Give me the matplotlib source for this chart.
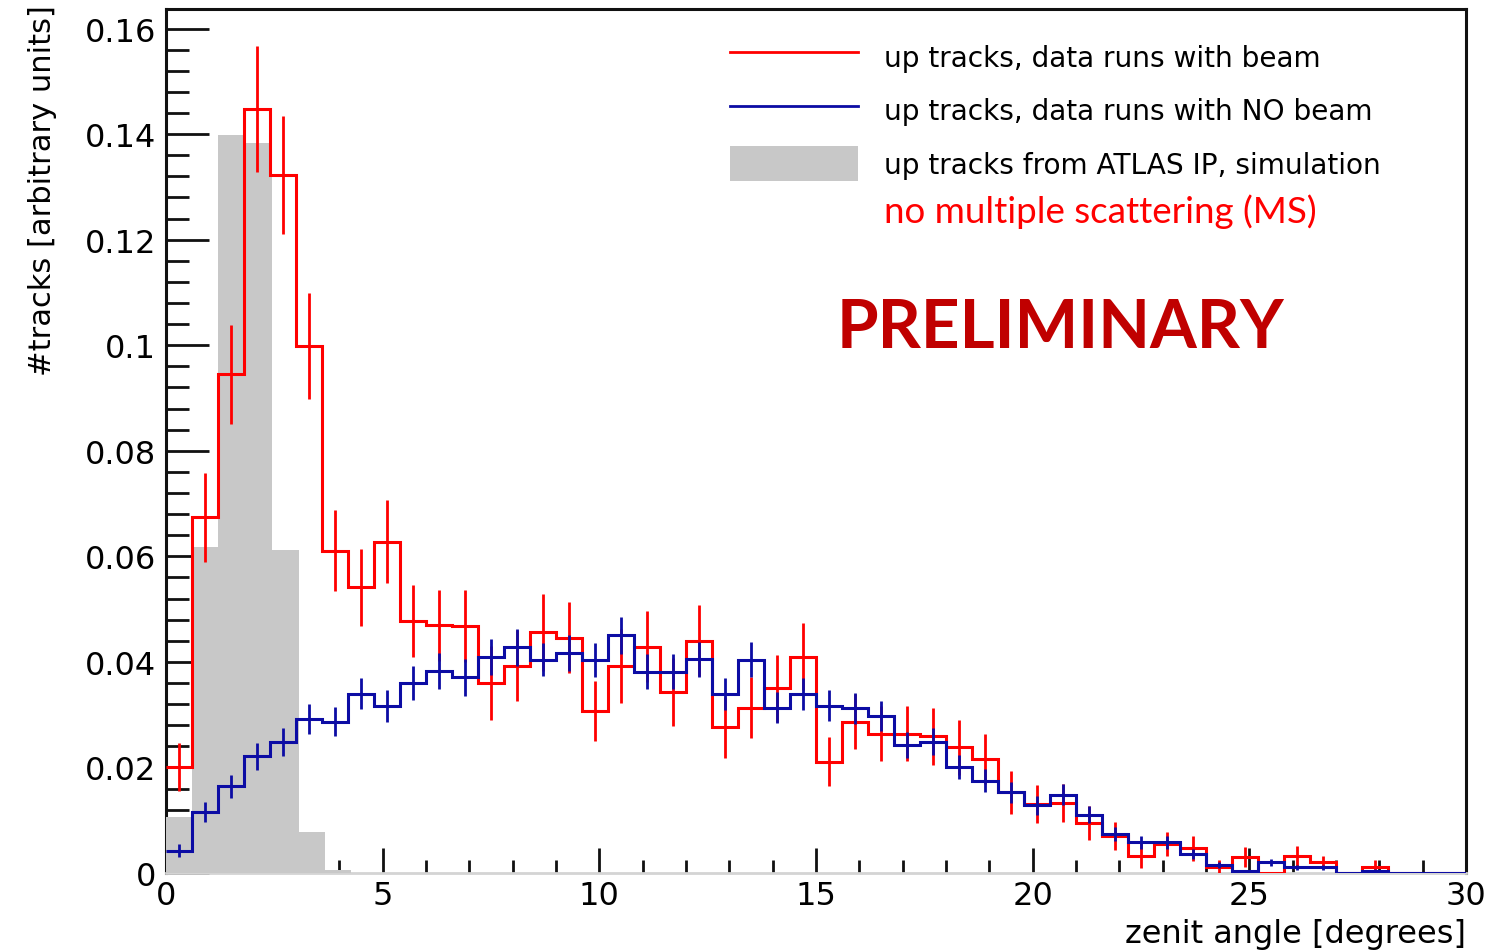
import numpy as np
import matplotlib
matplotlib.use("Agg")
import matplotlib.pyplot as plt
from matplotlib.lines import Line2D
from matplotlib.patches import Patch

# 50 bins of 0.6 degrees from 0 to 30
bin_edges = np.linspace(0, 30, 51)

# up tracks, data runs with beam
beam = [0.0201, 0.0674, 0.0945, 0.1448, 0.1323, 0.0998, 0.0611, 0.0541, 0.0628, 0.0477,
        0.0469, 0.0468, 0.0360, 0.0393, 0.0456, 0.0446, 0.0307, 0.0393, 0.0429, 0.0343,
        0.0440, 0.0276, 0.0313, 0.0350, 0.0410, 0.0211, 0.0287, 0.0264, 0.0264, 0.0259,
        0.0238, 0.0216, 0.0153, 0.0131, 0.0133, 0.0094, 0.0070, 0.0033, 0.0055, 0.0047,
        0.0011, 0.0031, 0.0000, 0.0032, 0.0020, 0.0000, 0.0011, 0.0000, 0.0000, 0.0000]
beam_err = [0.0045, 0.0084, 0.0094, 0.0119, 0.0112, 0.0100, 0.0076, 0.0073, 0.0079, 0.0068,
            0.0068, 0.0068, 0.0070, 0.0067, 0.0073, 0.0068, 0.0057, 0.0070, 0.0067, 0.0065,
            0.0067, 0.0058, 0.0058, 0.0063, 0.0064, 0.0046, 0.0052, 0.0052, 0.0052, 0.0054,
            0.0052, 0.0047, 0.0041, 0.0036, 0.0036, 0.0032, 0.0027, 0.0024, 0.0023, 0.0024,
            0.0013, 0.0019, 0.0000, 0.0019, 0.0013, 0.0000, 0.0013, 0.0000, 0.0000, 0.0000]

# up tracks, data runs with NO beam
nobeam = [0.0042, 0.0116, 0.0164, 0.0221, 0.0248, 0.0292, 0.0287, 0.0340, 0.0316, 0.0360,
          0.0382, 0.0371, 0.0409, 0.0428, 0.0404, 0.0416, 0.0403, 0.0450, 0.0381, 0.0381,
          0.0405, 0.0339, 0.0404, 0.0313, 0.0339, 0.0317, 0.0312, 0.0297, 0.0243, 0.0249,
          0.0201, 0.0175, 0.0153, 0.0128, 0.0148, 0.0110, 0.0074, 0.0058, 0.0058, 0.0036,
          0.0015, 0.0003, 0.0020, 0.0011, 0.0011, 0.0000, 0.0004, 0.0000, 0.0000, 0.0000]
nobeam_err = [0.0012, 0.0019, 0.0022, 0.0025, 0.0026, 0.0028, 0.0028, 0.0030, 0.0030, 0.0032,
              0.0034, 0.0035, 0.0034, 0.0035, 0.0031, 0.0034, 0.0032, 0.0035, 0.0033, 0.0033,
              0.0033, 0.0030, 0.0033, 0.0029, 0.0030, 0.0029, 0.0029, 0.0028, 0.0025, 0.0026,
              0.0023, 0.0022, 0.0020, 0.0018, 0.0020, 0.0016, 0.0014, 0.0012, 0.0012, 0.0010,
              0.0006, 0.0003, 0.0007, 0.0005, 0.0005, 0.0000, 0.0003, 0.0000, 0.0000, 0.0000]

# simulation (no multiple scattering)
sim_edges = [0, 0.6, 1.2, 1.82, 2.44, 3.08, 3.68, 4.28]
sim = [0.0107, 0.0618, 0.1398, 0.1383, 0.0612, 0.0077, 0.0005]

xticks = [0, 5, 10, 15, 20, 25, 30]
yticks = [0, 0.02, 0.04, 0.06, 0.08, 0.10, 0.12, 0.14, 0.16]
ytick_labels = ["0", "0.02", "0.04", "0.06", "0.08", "0.1", "0.12", "0.14", "0.16"]

legend_labels = ["up tracks, data runs with beam",
                 "up tracks, data runs with NO beam",
                 "up tracks from ATLAS IP, simulation"]

RED = "#ff0000"
BLUE = "#0c0ca4"
GREY = "#c8c8c8"

centers = 0.5 * (bin_edges[:-1] + bin_edges[1:])

fig = plt.figure(figsize=(15.11, 9.53), dpi=100)
ax = fig.add_axes([166 / 1511, 1 - 874 / 953, 1300 / 1511, 864 / 953])

ax.stairs(sim, sim_edges, fill=True, color=GREY, zorder=2.6, lw=0)

ax.stairs(beam, bin_edges, baseline=None, color=RED, lw=2.2, zorder=3)
ax.errorbar(centers, beam, yerr=beam_err, fmt="none", ecolor=RED, elinewidth=2.0,
            capsize=0, zorder=3)
ax.stairs(nobeam, bin_edges, baseline=None, color=BLUE, lw=2.2, zorder=4)
ax.errorbar(centers, nobeam, yerr=nobeam_err, fmt="none", ecolor=BLUE, elinewidth=2.0,
            capsize=0, zorder=4)

ax.set_xlim(0, 30)
ax.set_ylim(0, 0.1637)

ax.set_xticks(xticks)
ax.set_xticks(np.arange(0, 31, 1), minor=True)
ax.set_yticks(yticks)
ax.set_yticklabels(ytick_labels)
ax.set_yticks(np.arange(0, 0.1637, 0.004), minor=True)

ax.tick_params(axis="both", which="both", direction="in", color="#111111", width=2,
               labelsize=23)
ax.tick_params(axis="y", which="major", length=31, pad=7)
ax.tick_params(axis="y", which="minor", length=16.5)
ax.tick_params(axis="x", which="major", length=18, pad=5)
ax.tick_params(axis="x", which="minor", length=9.5)

for side in ["left", "top", "right"]:
    ax.spines[side].set_linewidth(2.2)
    ax.spines[side].set_color("#111111")
ax.spines["bottom"].set_color("#d4d4d4")
ax.spines["bottom"].set_linewidth(2)

ax.set_xlabel("zenit angle [degrees]", fontsize=23, ha="right", va="top")
ax.xaxis.set_label_coords(1.0, -0.052)
ax.set_ylabel("#tracks [arbitrary units]", fontsize=22, ha="right")
ax.yaxis.set_label_coords(-0.084, 1.006)

handles = [Line2D([], [], color=RED, lw=2),
           Line2D([], [], color=BLUE, lw=2),
           Patch(facecolor=GREY, edgecolor="none")]
ax.legend(handles, legend_labels, loc="upper left",
          bbox_to_anchor=(730 / 1511, 1 - 40 / 953), bbox_transform=fig.transFigure,
          frameon=False, fontsize=20.2, handlelength=4.55, handleheight=1.55,
          handletextpad=0.93, labelspacing=0.66, borderpad=0, borderaxespad=0)

fig.text(884 / 1511, 1 - 212 / 953, "no multiple scattering (MS)", color=RED,
         fontsize=26.5, family="Lato", ha="left", va="center")
fig.text(1061 / 1511, 1 - 329 / 953, "PRELIMINARY", color="#c00000",
         fontsize=48.5, family="Lato", weight="bold", ha="center", va="center")

fig.savefig("out.png", dpi=100)
